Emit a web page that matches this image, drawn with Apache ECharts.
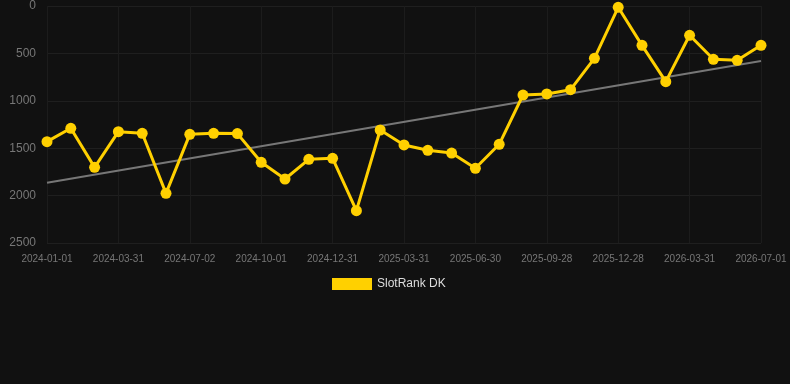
<!DOCTYPE html>
<html>
<head>
<meta charset="utf-8">
<script src="https://cdn.jsdelivr.net/npm/echarts@6/dist/echarts.min.js"></script>
<style>
html,body{margin:0;padding:0;background:#111111;}
#chart{width:790px;height:384px;}
</style>
</head>
<body>
<div id="chart"></div>
<script>
var categories = ["2024-01-01","2024-01-31","2024-03-01","2024-03-31","2024-05-01","2024-06-01","2024-07-02","2024-08-01","2024-09-01","2024-10-01","2024-10-31","2024-12-01","2024-12-31","2025-01-30","2025-03-01","2025-03-31","2025-04-30","2025-05-31","2025-06-30","2025-07-30","2025-08-29","2025-09-28","2025-10-28","2025-11-28","2025-12-28","2026-01-28","2026-02-28","2026-03-31","2026-05-01","2026-06-01","2026-07-01"];
var rankValues = [1431,1290,1702,1326,1343,1976,1354,1343,1346,1649,1825,1617,1607,2159,1308,1466,1522,1551,1712,1459,939,928,883,552,14,415,798,309,562,573,415];
var trendEnds = [1864, 580];
var seriesName = "SlotRank DK";

var trendData = categories.map(function(c, i){
  if (i === 0) return trendEnds[0];
  if (i === categories.length - 1) return trendEnds[1];
  return null;
});

var chart = echarts.init(document.getElementById('chart'), null, {renderer:'canvas'});
chart.setOption({
  backgroundColor: '#111111',
  animation: false,
  grid: {left: 47, right: 29, top: 6, bottom: 141, containLabel: false},
  legend: {
    data: [seriesName],
    top: 273,
    left: 327,
    icon: 'rect',
    itemWidth: 40,
    itemHeight: 12,
    textStyle: {color: '#dddddd', fontSize: 12, fontFamily: 'Liberation Sans, Arial, sans-serif'}
  },
  xAxis: {
    type: 'category',
    data: categories,
    boundaryGap: false,
    axisLine: {show: false},
    axisTick: {show: false},
    axisLabel: {
      interval: 2,
      color: '#777777',
      fontSize: 10,
      margin: 11,
      fontFamily: 'Liberation Sans, Arial, sans-serif'
    },
    splitLine: {show: true, interval: 2, lineStyle: {color: '#1c1c1c', width: 1}}
  },
  yAxis: {
    type: 'value',
    inverse: true,
    min: 0,
    max: 2500,
    interval: 500,
    axisLine: {show: false},
    axisTick: {show: false},
    axisLabel: {color: '#777777', fontSize: 12, margin: 11, fontFamily: 'Liberation Sans, Arial, sans-serif',
      formatter: function(v){ return String(v); }},
    splitLine: {show: true, lineStyle: {color: '#1f1f1f', width: 1}}
  },
  series: [
    {
      name: seriesName,
      type: 'line',
      data: rankValues,
      symbol: 'circle',
      symbolSize: 11,
      z: 3,
      itemStyle: {color: '#FFD000'},
      lineStyle: {color: '#FFD000', width: 3}
    },
    {
      name: 'trend',
      type: 'line',
      data: trendData,
      connectNulls: true,
      symbol: 'none',
      z: 2,
      lineStyle: {color: '#777777', width: 2},
      itemStyle: {color: '#777777'}
    }
  ]
});
</script>
</body>
</html>
